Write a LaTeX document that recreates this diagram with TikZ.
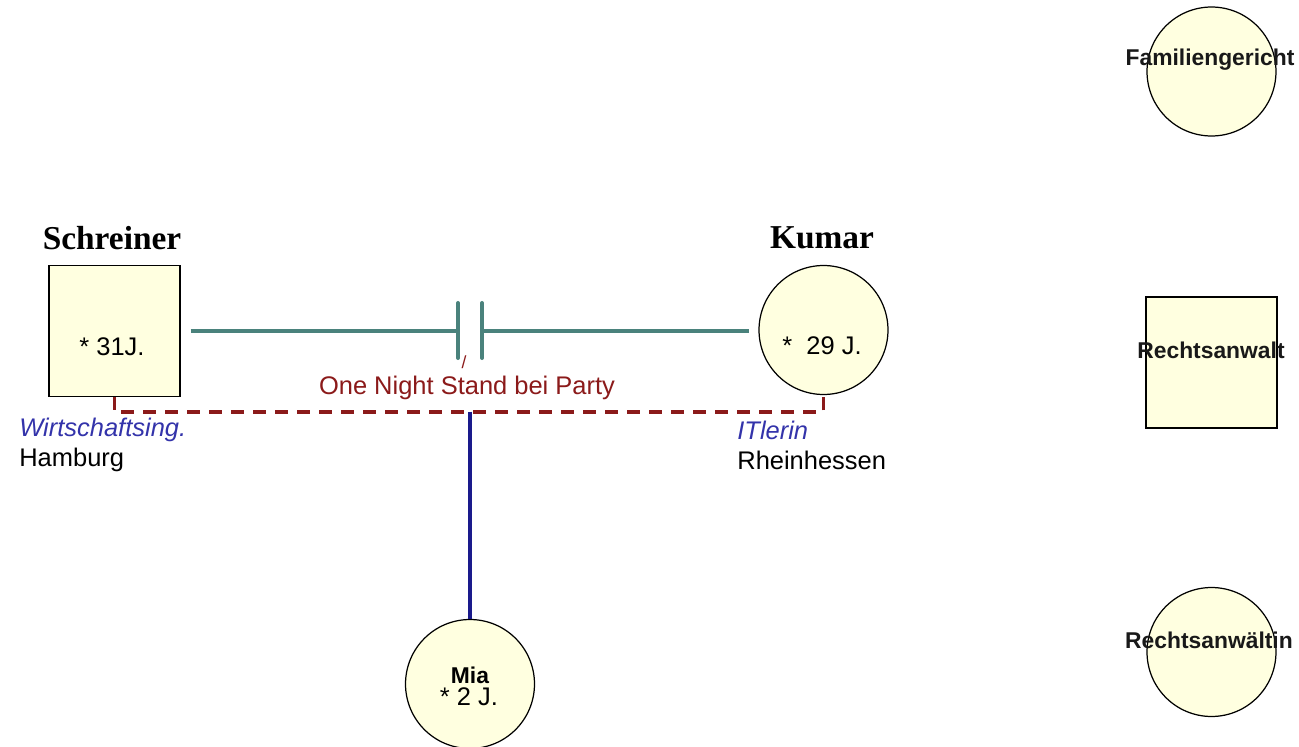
\documentclass[tikz,border=0pt]{standalone}
\usepackage{tikz}
\usepackage{fontspec,xcolor}
\setmainfont{Liberation Sans}
\newfontfamily\surnamefont{Liberation Serif}
\definecolor{partnerteal}{RGB}{74,130,124}
\definecolor{relred}{RGB}{139,26,26}
\definecolor{childblue}{RGB}{26,26,140}
\definecolor{jobblue}{RGB}{51,51,170}
\definecolor{personfill}{RGB}{255,255,224}
\newcommand{\genoText}{\fontsize{14.5}{17}\selectfont}
\tikzset{
  male/.style={draw, fill=personfill, line width=0.7pt, minimum size=2.62cm, inner sep=0pt},
  female/.style={draw, circle, fill=personfill, line width=0.7pt, minimum size=2.58cm, inner sep=0pt},
  surname/.style={font=\surnamefont\bfseries\fontsize{19}{22}\selectfont, inner sep=0pt},
  txt/.style={font=\genoText, inner sep=0pt},
  role/.style={font=\bfseries\fontsize{13}{15}\selectfont, text=black!90, inner sep=0pt},
  partner/.style={draw=partnerteal, line width=2.3pt},
  sepline/.style={draw=relred, line width=2pt, dash pattern=on 0.26cm off 0.18cm},
  childline/.style={draw=childblue, line width=2pt}
}
\begin{document}
\begin{tikzpicture}[x=0.02cm, y=-0.02cm]
\useasboundingbox (0,0) rectangle (1299,747);
% persons
\node[male] (schreiner) at (114.5,331) {};
\node[female] (kumar) at (823.5,330) {};
\node[female] (mia) at (470,684) {};
\node[surname] at (112,238) {Schreiner};
\node[surname] at (822,238) {Kumar};
\node[txt] at (112,347) {* 31J.};
\node[txt] at (822,346) {*\ \ 29 J.};
\node[txt, font=\bfseries\fontsize{13}{15}\selectfont] at (470,675) {Mia};
\node[txt] at (469,697) {* 2 J.};
% job and place
\node[txt, anchor=west, text=jobblue, font=\genoText\itshape] at (19,430) {Wirtschaftsing.};
\node[txt, anchor=west] at (19,460) {Hamburg};
\node[txt, anchor=west, text=jobblue, font=\genoText\itshape] at (737,430) {ITlerin};
\node[txt, anchor=west] at (737,460) {Rheinhessen};
% helpers
\node[female] (gericht) at (1211.5,71.5) {};
\node[male] (anwalt) at (1211.5,362.5) {};
\node[female] (anwaeltin) at (1211.5,652) {};
\node[role] at (1210,60) {Familiengericht};
\node[role] at (1211,350) {Rechtsanwalt};
\node[role] at (1209,640) {Rechtsanwältin};
% partnership
\coordinate (gapL) at (458,331);
\coordinate (gapR) at (482,331);
\draw[partner, shorten <=0.2cm] (schreiner.east |- gapL) -- (gapL);
\draw[partner, shorten >=0.19cm] (gapR) -- (kumar.west |- gapR);
\draw[partner, line cap=round] ([yshift=0.56cm]gapL) -- ([yshift=-0.54cm]gapL);
\draw[partner, line cap=round] ([yshift=0.56cm]gapR) -- ([yshift=-0.54cm]gapR);
\node[txt, text=relred, font=\fontsize{10}{12}\selectfont] at (464,362) {/};
\node[txt, text=relred] (relinfo) at (467,388) {One Night Stand bei Party};
% separation line and child
\draw[sepline] (schreiner.south) -- ++(0,15) -| (kumar.south);
\coordinate (childdrop) at (470,411.5);
\draw[childline] (childdrop) -- (mia.north);
\end{tikzpicture}
\end{document}
